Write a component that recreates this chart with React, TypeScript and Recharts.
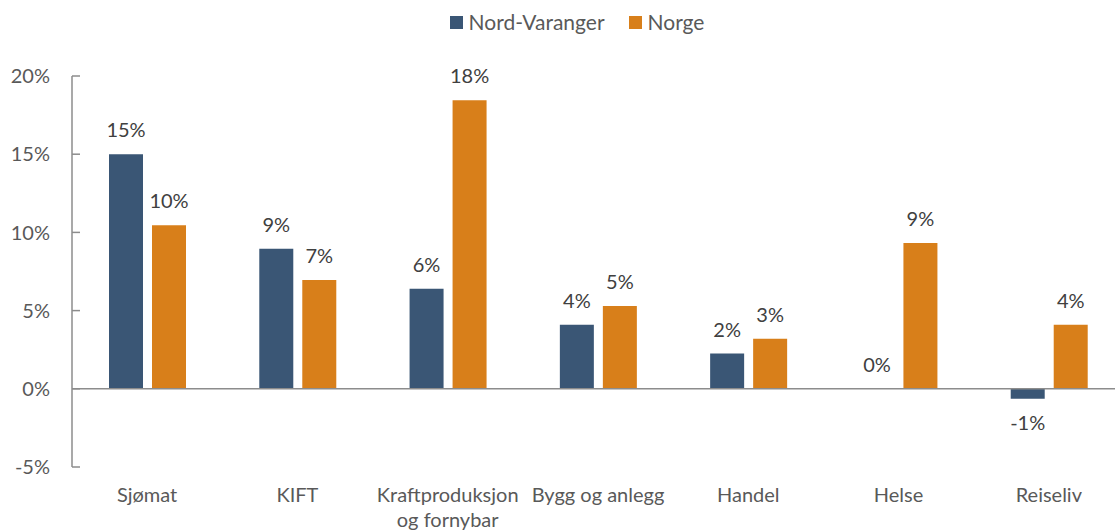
import {
  BarChart,
  Bar,
  XAxis,
  YAxis,
  Legend,
  LabelList,
  ReferenceLine,
  ReferenceDot,
  Text,
} from "recharts";

const categories = [
  "Sjømat",
  "KIFT",
  "Kraftproduksjon og fornybar",
  "Bygg og anlegg",
  "Handel",
  "Helse",
  "Reiseliv",
];

const nordVaranger = [15.0, 8.95, 6.4, 4.1, 2.25, 0, -0.64];
const norge = [10.45, 6.96, 18.45, 5.3, 3.2, 9.33, 4.1];

const yTicks = [-5, 0, 5, 10, 15, 20];

const NAVY = "#3a5675";
const ORANGE = "#d87f1a";
const AXIS = "#8c8c8c";
const TEXT = "#595959";
const LABEL = "#404040";

const BAR = 34;
const GAP = 9;
const LABEL_OFFSET = 17;

const chartData = categories.map((name, i) => ({
  name,
  nv: nordVaranger[i],
  no: norge[i],
}));

const pct = (v: number) => `${Math.round(v)}%`;

function CategoryTick({ x, y, payload }: any) {
  const label: string = payload.value;
  // long labels wrap after the first word
  const lines =
    label.length > 20
      ? [label.slice(0, label.indexOf(" ")), label.slice(label.indexOf(" ") + 1)]
      : [label];
  return (
    <g>
      {lines.map((line, i) => (
        <text
          key={i}
          x={x}
          y={y + 35 + i * 25}
          textAnchor="middle"
          fontSize={20}
          fill={TEXT}
        >
          {line}
        </text>
      ))}
    </g>
  );
}

function LegendContent({ payload }: any) {
  return (
    <div
      style={{
        display: "flex",
        justifyContent: "center",
        gap: 24,
        fontSize: 21,
        color: TEXT,
        lineHeight: "24px",
      }}
    >
      {(payload || []).map((p: any) => (
        <div key={p.value} style={{ display: "flex", alignItems: "center" }}>
          <span
            style={{
              display: "inline-block",
              width: 13,
              height: 13,
              background: p.color,
              marginRight: 6,
            }}
          />
          {p.value}
        </div>
      ))}
    </div>
  );
}

// zero-height bars get no label from LabelList, so draw those separately
function zeroLabel(shift: number) {
  return ({ viewBox }: any) => (
    <Text
      x={viewBox.x + viewBox.width / 2 + shift}
      y={viewBox.y - LABEL_OFFSET}
      textAnchor="middle"
      verticalAnchor="end"
      fontSize={20}
      fill={LABEL}
    >
      {pct(0)}
    </Text>
  );
}

export default function App() {
  return (
    <div
      style={{
        position: "absolute",
        left: 0,
        top: 0,
        width: 1115,
        height: 532,
        overflow: "hidden",
        background: "#fff",
        fontFamily: "Lato, 'Noto Sans', sans-serif",
      }}
    >
      <BarChart
        width={1141}
        height={532}
        data={chartData}
        margin={{ top: 76, right: 17, bottom: 5, left: 0 }}
        barGap={GAP}
      >
        <XAxis
          dataKey="name"
          axisLine={false}
          tickLine={false}
          tickSize={0}
          tickMargin={0}
          height={60}
          interval={0}
          tick={<CategoryTick />}
        />
        <YAxis
          width={72}
          domain={[-5, 20]}
          ticks={yTicks}
          tickFormatter={(v: number) => `${v}%`}
          axisLine={{ stroke: AXIS, strokeWidth: 1.5 }}
          tickLine={{ stroke: AXIS, strokeWidth: 1.5 }}
          tickSize={-8}
          tickMargin={30}
          tick={{ fontSize: 20, fill: TEXT }}
        />
        <ReferenceLine y={0} stroke={AXIS} strokeWidth={1.5} />
        <Legend
          verticalAlign="middle"
          align="center"
          content={<LegendContent />}
          wrapperStyle={{ top: 10, left: 0, width: 1154 }}
        />
        <Bar
          dataKey="nv"
          name="Nord-Varanger"
          fill={NAVY}
          barSize={BAR}
          isAnimationActive={false}
        >
          <LabelList
            dataKey="nv"
            position="top"
            offset={LABEL_OFFSET}
            formatter={(v: any) => pct(Number(v))}
            style={{ fontSize: 20, fill: LABEL }}
          />
        </Bar>
        <Bar
          dataKey="no"
          name="Norge"
          fill={ORANGE}
          barSize={BAR}
          isAnimationActive={false}
        >
          <LabelList
            dataKey="no"
            position="top"
            offset={LABEL_OFFSET}
            formatter={(v: any) => pct(Number(v))}
            style={{ fontSize: 20, fill: LABEL }}
          />
        </Bar>
        {categories.map((c, i) =>
          nordVaranger[i] === 0 ? (
            <ReferenceDot
              key={"nv" + c}
              x={c}
              y={0}
              r={0}
              stroke="none"
              fill="none"
              label={zeroLabel(-(BAR + GAP) / 2)}
            />
          ) : null
        )}
        {categories.map((c, i) =>
          norge[i] === 0 ? (
            <ReferenceDot
              key={"no" + c}
              x={c}
              y={0}
              r={0}
              stroke="none"
              fill="none"
              label={zeroLabel((BAR + GAP) / 2)}
            />
          ) : null
        )}
      </BarChart>
    </div>
  );
}
